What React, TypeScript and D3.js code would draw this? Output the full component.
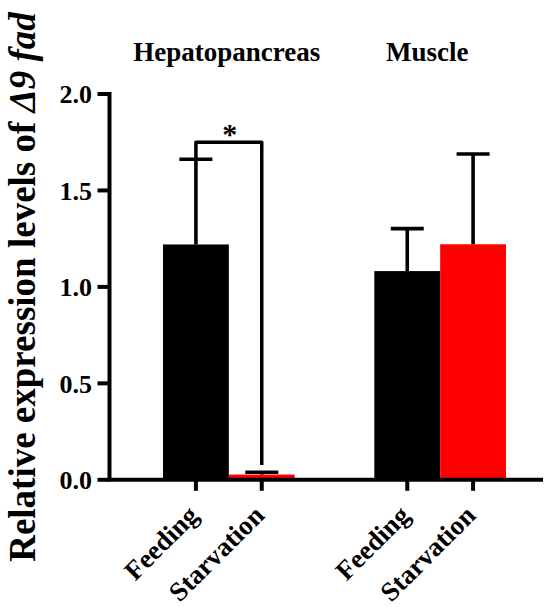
import React from "react";
import * as d3 from "d3";

const groups = ["Hepatopancreas", "Muscle"];
const conditions = ["Feeding", "Starvation"];
const hepatoMeans = [1.22, 0.027];
const hepatoErrors = [0.442, 0.012];
const muscleMeans = [1.082, 1.221];
const muscleErrors = [0.22, 0.468];
const yTicks = [0, 0.5, 1.0, 1.5, 2.0];
const sigLevel = 1.75;
const sigRightLeg = 0.077;
const sigLabel = "*";

const colors: Record<string, string> = { Feeding: "#000000", Starvation: "#ff0000" };

const W = 550;
const H = 607;
const serif = "'Liberation Serif', 'Times New Roman', serif";

export default function App() {
  const y = d3.scaleLinear().domain([0, 2]).range([479.8, 94]);
  const xOuter = d3.scaleBand<string>().domain(groups).range([163, 506]).paddingInner(0.377).paddingOuter(0);
  const xInner = d3.scaleBand<string>().domain(conditions).range([0, xOuter.bandwidth()]).padding(0);
  const bw = xInner.bandwidth();
  const axisX = 109.5;
  const axisY = y(0);
  const capW = 33;
  const labelOffsets = [-2, -13];

  const data = [
    { group: groups[0], means: hepatoMeans, errs: hepatoErrors },
    { group: groups[1], means: muscleMeans, errs: muscleErrors },
  ];
  const cx = (g: string, c: string) => (xOuter(g) as number) + (xInner(c) as number) + bw / 2;

  const bars: React.ReactNode[] = [];
  const errs: React.ReactNode[] = [];
  const xLabels: React.ReactNode[] = [];
  data.forEach((d) => {
    conditions.forEach((c, i) => {
      const x0 = (xOuter(d.group) as number) + (xInner(c) as number);
      const m = d.means[i];
      const e = d.errs[i];
      const xc = cx(d.group, c);
      bars.push(
        <rect key={`b-${d.group}-${c}`} x={x0} y={y(m)} width={bw} height={y(0) - y(m)} fill={colors[c]} />
      );
      errs.push(
        <g key={`e-${d.group}-${c}`} stroke="#000" strokeWidth={3.6}>
          <line x1={xc} x2={xc} y1={y(m)} y2={y(m + e)} />
          <line x1={xc - capW / 2} x2={xc + capW / 2} y1={y(m + e)} y2={y(m + e)} />
        </g>
      );
      xLabels.push(
        <g key={`t-${d.group}-${c}`}>
          <line x1={xc} x2={xc} y1={axisY} y2={axisY + 11} stroke="#000" strokeWidth={4} />
          <text
            transform={`translate(${xc + 4},${517}) rotate(-45)`}
            textAnchor="end"
            fontFamily={serif}
            fontWeight="bold"
            fontSize={27}
            fill="#000"
          >
            {c}
          </text>
        </g>
      );
    });
  });

  const xF = cx(groups[0], conditions[0]);
  const xS = cx(groups[0], conditions[1]);
  const bracketPath = `M${xF},${y(hepatoMeans[0] + hepatoErrors[0])}V${y(sigLevel)}H${xS}V${y(sigRightLeg)}`;

  return (
    <svg width={W} height={H} style={{ position: "absolute", left: 0, top: 0, background: "#fff" }}>
      <rect x={0} y={0} width={W} height={H} fill="#fff" />
      {bars}
      {errs}
      <path d={bracketPath} fill="none" stroke="#000" strokeWidth={3.5} strokeLinejoin="round" />
      <text
        x={(xF + xS) / 2 + 1}
        y={y(sigLevel) + 2}
        textAnchor="middle"
        fontFamily={serif}
        fontWeight="bold"
        fontSize={30}
        fill="#000"
      >
        {sigLabel}
      </text>
      {/* axes */}
      <path d={`M541,${axisY}H${axisX}V${y(2)}`} fill="none" stroke="#000" strokeWidth={4} strokeLinecap="square" />
      {yTicks.map((t) => (
        <g key={`yt-${t}`}>
          <line x1={axisX - 12} x2={axisX} y1={y(t)} y2={y(t)} stroke="#000" strokeWidth={4} />
          <text
            x={92}
            y={y(t)}
            dy="0.36em"
            textAnchor="end"
            fontFamily={serif}
            fontWeight="bold"
            fontSize={26}
            fill="#000"
          >
            {d3.format(".1f")(t)}
          </text>
        </g>
      ))}
      {xLabels}
      {groups.map((g, i) => (
        <text
          key={`g-${g}`}
          x={(xOuter(g) as number) + xOuter.bandwidth() / 2 + labelOffsets[i]}
          y={61}
          textAnchor="middle"
          fontFamily={serif}
          fontWeight="bold"
          fontSize={27}
          fill="#000"
        >
          {g}
        </text>
      ))}
      <text
        transform={`translate(35,287) rotate(-90)`}
        textAnchor="middle"
        fontFamily={serif}
        fontWeight="bold"
        fontSize={37}
        fill="#000"
      >
        Relative expression levels of <tspan fontStyle="italic">Δ9 fad</tspan>
      </text>
    </svg>
  );
}
